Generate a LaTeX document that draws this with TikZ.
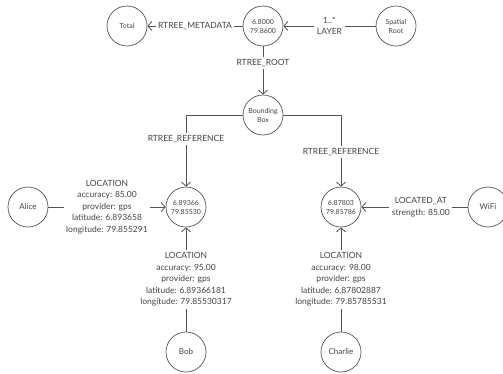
\documentclass[tikz,border=0pt]{standalone}
\usepackage{fontspec}
\setmainfont{Lato}
\usetikzlibrary{arrows.meta}
\definecolor{ln}{HTML}{555555}
\definecolor{tx}{HTML}{444444}
\tikzset{
  nd/.style={circle,draw=ln,line width=0.7pt,minimum size=40pt,inner sep=0pt,text=tx,align=center,font=\fontsize{7}{9}\selectfont},
  ndbig/.style={nd,font=\fontsize{8}{10}\selectfont},
  lbl/.style={fill=white,text=tx,align=center,inner sep=2.5pt,font=\fontsize{8.5}{11.5}\selectfont},
  edge/.style={draw=ln,line width=0.8pt},
  arr/.style={edge,-{Straight Barb[length=4pt,width=9pt,line width=0.8pt]}},
}
\begin{document}
\begin{tikzpicture}[x=1pt,y=-1pt]
\useasboundingbox[fill=white] (0,0) rectangle (503,373);
\node[nd] (total) at (127,26) {Total};
\node[nd] (meta) at (263,26) {6.8000\\79.8600};
\node[nd] (root) at (396,26) {Spatial\\Root};
\node[nd] (bbox) at (263,115) {Bounding\\Box};
\node[nd] (p1) at (186,207) {6.89366\\79.85530};
\node[nd] (p2) at (341,207) {6.87803\\79.85786};
\node[ndbig] (alice) at (28,207) {Alice};
\node[ndbig] (wifi) at (488,207) {WiFi};
\node[ndbig] (bob) at (186,352) {Bob};
\node[ndbig] (charlie) at (341,352) {Charlie};

\draw[arr] (meta) -- node[lbl] {RTREE\_METADATA} (total);
\draw[arr] (root) -- node[lbl] {1..*\\LAYER} (meta);
\draw[arr] (meta) -- node[lbl,pos=0.35] {RTREE\_ROOT} (bbox);
\draw[arr] (bbox.west) -| node[lbl,pos=0.667] {RTREE\_REFERENCE} (p1);
\draw[arr] (bbox.east) -| node[lbl,pos=0.757] {RTREE\_REFERENCE} (p2);
\draw[arr] (alice) -- node[lbl] {LOCATION\\accuracy: 85.00\\provider: gps\\latitude: 6.893658\\longitude: 79.855291} (p1);
\draw[arr] (bob) -- node[lbl] {LOCATION\\accuracy: 95.00\\provider: gps\\latitude: 6.89366181\\longitude: 79.85530317} (p1);
\draw[arr] (charlie) -- node[lbl] {LOCATION\\accuracy: 98.00\\provider: gps\\latitude: 6.87802887\\longitude: 79.85785531} (p2);
\draw[arr] (wifi) -- node[lbl,pos=0.44] {LOCATED\_AT\\strength: 85.00} (p2);
\end{tikzpicture}
\end{document}
